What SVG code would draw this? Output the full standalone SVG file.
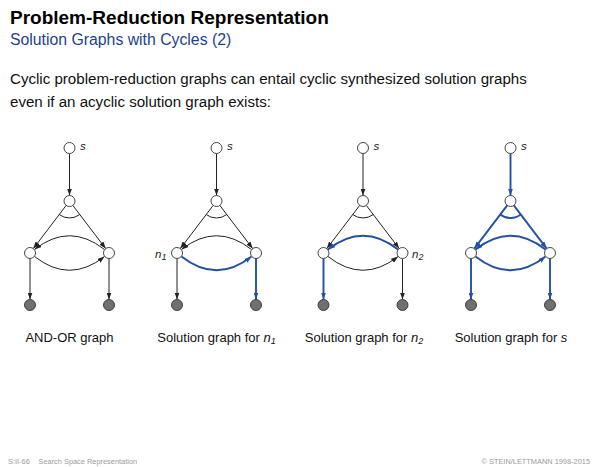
<svg xmlns="http://www.w3.org/2000/svg" width="600" height="467" viewBox="0 0 600 467">
<style>
text{font-family:"Liberation Sans",Arial,sans-serif;}
.title{font-size:19px;font-weight:bold;fill:#000;}
.sub{font-size:15.8px;fill:#233f8f;}
.body{font-size:15.1px;fill:#111;}
.cap{font-size:13px;fill:#111;}
.lbl{font-size:11.5px;font-style:italic;fill:#222;}
.subs{font-size:9px;font-style:italic;}
.foot{font-size:7.4px;fill:#9a9a9a;}
.n{fill:#fff;stroke:#333;stroke-width:0.9;}
.t{fill:#707070;stroke:#333;stroke-width:0.9;}
.k{fill:none;stroke:#222;stroke-width:1;}
.ka{fill:none;stroke:#222;stroke-width:1;marker-end:url(#ak);}
.b{fill:none;stroke:#2350a3;stroke-width:1.9;}
.ba{fill:none;stroke:#2350a3;stroke-width:1.9;marker-end:url(#ab);}
</style>
<defs>
<marker id="ak" markerUnits="userSpaceOnUse" markerWidth="7" markerHeight="5" refX="7" refY="2.5" orient="auto"><path d="M0,0 L7,2.5 L0,5 z" fill="#222"/></marker>
<marker id="ab" markerUnits="userSpaceOnUse" markerWidth="7" markerHeight="5" refX="7" refY="2.5" orient="auto"><path d="M0,0 L7,2.5 L0,5 z" fill="#2350a3"/></marker>
</defs>
<text class="title" x="10" y="24">Problem-Reduction Representation</text>
<text class="sub" x="10" y="45">Solution Graphs with Cycles (2)</text>
<text class="body" x="10" y="84">Cyclic problem-reduction graphs can entail cyclic synthesized solution graphs</text>
<text class="body" x="10" y="107">even if an acyclic solution graph exists:</text>

<g id="connectors">
<!-- graph 1 -->
<path class="ka" d="M69.5,153.5 L69.5,195.5"/>
<path class="ka" d="M66.2,205.4 L33.3,248.6"/>
<path class="ka" d="M72.8,205.4 L105.7,248.6"/>
<path class="ka" d="M104.5,249.5 Q69.5,222 34.5,249.5"/>
<path class="ka" d="M34.5,256.5 Q69.5,284 104.5,256.5"/>
<path class="ka" d="M30,258.5 L30,299.5"/>
<path class="ka" d="M109,258.5 L109,299.5"/>
<path class="k" d="M59.2,214.5 A17,17 0 0 0 79.8,214.5"/>
<!-- graph 2 -->
<path class="ka" d="M216.5,153.5 L216.5,195.5"/>
<path class="ka" d="M213.2,205.4 L180.3,248.6"/>
<path class="ka" d="M219.8,205.4 L252.7,248.6"/>
<path class="ka" d="M251.5,249.5 Q216.5,222 181.5,249.5"/>
<path class="ba" d="M181.5,256.5 Q216.5,284 251.5,256.5"/>
<path class="ka" d="M177,258.5 L177,299.5"/>
<path class="ba" d="M256,258.5 L256,299.5"/>
<path class="k" d="M206.2,214.5 A17,17 0 0 0 226.8,214.5"/>
<!-- graph 3 -->
<path class="ka" d="M363,153.5 L363,195.5"/>
<path class="ka" d="M359.7,205.4 L326.8,248.6"/>
<path class="ka" d="M366.3,205.4 L399.2,248.6"/>
<path class="ba" d="M398,249.5 Q363,222 328,249.5"/>
<path class="ka" d="M328,256.5 Q363,284 398,256.5"/>
<path class="ba" d="M323.5,258.5 L323.5,299.5"/>
<path class="ka" d="M402.5,258.5 L402.5,299.5"/>
<path class="k" d="M352.7,214.5 A17,17 0 0 0 373.3,214.5"/>
<!-- graph 4 -->
<path class="ba" d="M510.5,153.5 L510.5,195.5"/>
<path class="ba" d="M507.2,205.4 L474.3,248.6"/>
<path class="ba" d="M513.8,205.4 L546.7,248.6"/>
<path class="ba" d="M545.5,249.5 Q510.5,222 475.5,249.5"/>
<path class="ba" d="M475.5,256.5 Q510.5,284 545.5,256.5"/>
<path class="ba" d="M471,258.5 L471,299.5"/>
<path class="ba" d="M550,258.5 L550,299.5"/>
<path class="b" d="M500.2,214.5 A17,17 0 0 0 520.8,214.5"/>
</g>

<!-- graph 1 nodes -->
<g id="g1-s"><circle class="n" cx="69.5" cy="148" r="5.5"/><text class="lbl" x="80" y="150">s</text></g>
<g id="g1-and"><circle class="n" cx="69.5" cy="201" r="5.5"/></g>
<g id="g1-n1"><circle class="n" cx="30" cy="253" r="5.5"/></g>
<g id="g1-n2"><circle class="n" cx="109" cy="253" r="5.5"/></g>
<g id="g1-t1"><circle class="t" cx="30" cy="305" r="5.5"/></g>
<g id="g1-t2"><circle class="t" cx="109" cy="305" r="5.5"/></g>
<!-- graph 2 nodes -->
<g id="g2-s"><circle class="n" cx="216.5" cy="148" r="5.5"/><text class="lbl" x="227" y="150">s</text></g>
<g id="g2-and"><circle class="n" cx="216.5" cy="201" r="5.5"/></g>
<g id="g2-n1"><circle class="n" cx="177" cy="253" r="5.5"/><text class="lbl" x="155" y="258">n<tspan class="subs" dy="2">1</tspan></text></g>
<g id="g2-n2"><circle class="n" cx="256" cy="253" r="5.5"/></g>
<g id="g2-t1"><circle class="t" cx="177" cy="305" r="5.5"/></g>
<g id="g2-t2"><circle class="t" cx="256" cy="305" r="5.5"/></g>
<!-- graph 3 nodes -->
<g id="g3-s"><circle class="n" cx="363" cy="148" r="5.5"/><text class="lbl" x="373.5" y="150">s</text></g>
<g id="g3-and"><circle class="n" cx="363" cy="201" r="5.5"/></g>
<g id="g3-n1"><circle class="n" cx="323.5" cy="253" r="5.5"/></g>
<g id="g3-n2"><circle class="n" cx="402.5" cy="253" r="5.5"/><text class="lbl" x="412" y="258">n<tspan class="subs" dy="2">2</tspan></text></g>
<g id="g3-t1"><circle class="t" cx="323.5" cy="305" r="5.5"/></g>
<g id="g3-t2"><circle class="t" cx="402.5" cy="305" r="5.5"/></g>
<!-- graph 4 nodes -->
<g id="g4-s"><circle class="n" cx="510.5" cy="148" r="5.5"/><text class="lbl" x="521" y="150">s</text></g>
<g id="g4-and"><circle class="n" cx="510.5" cy="201" r="5.5"/></g>
<g id="g4-n1"><circle class="n" cx="471" cy="253" r="5.5"/></g>
<g id="g4-n2"><circle class="n" cx="550" cy="253" r="5.5"/></g>
<g id="g4-t1"><circle class="t" cx="471" cy="305" r="5.5"/></g>
<g id="g4-t2"><circle class="t" cx="550" cy="305" r="5.5"/></g>

<text class="cap" x="69.5" y="342" text-anchor="middle">AND-OR graph</text>
<text class="cap" x="216.5" y="342" text-anchor="middle">Solution graph for <tspan font-style="italic">n</tspan><tspan font-style="italic" font-size="9px" dy="2">1</tspan></text>
<text class="cap" x="364" y="342" text-anchor="middle">Solution graph for <tspan font-style="italic">n</tspan><tspan font-style="italic" font-size="9px" dy="2">2</tspan></text>
<text class="cap" x="511" y="342" text-anchor="middle">Solution graph for <tspan font-style="italic">s</tspan></text>

<text class="foot" x="8" y="464">S:II-66</text>
<text class="foot" x="38.5" y="464">Search Space Representation</text>
<text class="foot" x="590" y="464" text-anchor="end">© STEIN/LETTMANN 1998-2015</text>
</svg>
